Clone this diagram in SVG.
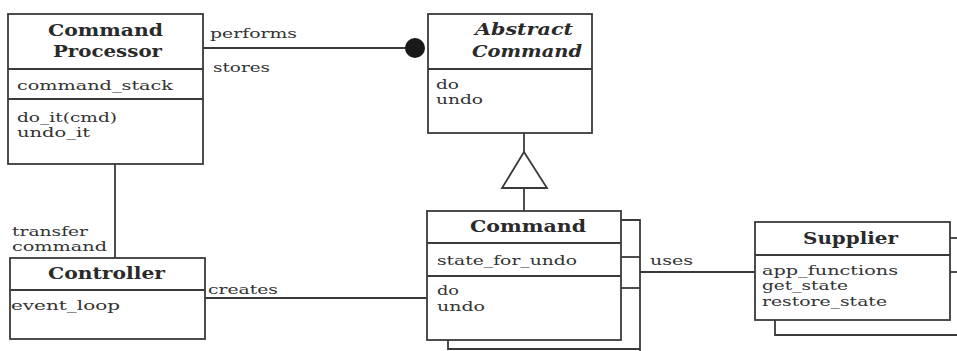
<svg xmlns="http://www.w3.org/2000/svg" width="957" height="351" viewBox="0 0 957 351">
<style>
.box{fill:#fff;stroke:#3a3a3a;stroke-width:1.8}
.ln{fill:none;stroke:#3a3a3a;stroke-width:1.8}
.t{font-family:"DejaVu Serif","Liberation Serif",serif;font-size:13px;fill:#333}
.h{font-family:"DejaVu Serif","Liberation Serif",serif;font-size:17px;font-weight:bold;fill:#2a2a2a}
.hi{font-style:italic}
</style>
<rect width="957" height="351" fill="#fff"/>
<g id="connectors">
<line class="ln" x1="203" y1="48" x2="406" y2="48"/>
<circle cx="415" cy="48" r="10" fill="#1a1a1a"/>
<line class="ln" x1="524" y1="133" x2="524" y2="152"/>
<polygon class="box" points="524,152 502,188 547,188"/>
<line class="ln" x1="524" y1="188" x2="524" y2="211"/>
<line class="ln" x1="115" y1="164" x2="115" y2="258"/>
<line class="ln" x1="205" y1="298" x2="427" y2="298"/>
<line class="ln" x1="640" y1="272" x2="755" y2="272"/>
<polyline class="ln" points="621,220 640,220 640,351"/>
<line class="ln" x1="621" y1="257" x2="640" y2="257"/>
<line class="ln" x1="621" y1="288" x2="640" y2="288"/>
<polyline class="ln" points="448,340 448,349 640,349"/>
<line class="ln" x1="950" y1="238" x2="957" y2="238"/>
<line class="ln" x1="950" y1="272" x2="957" y2="272"/>
<polyline class="ln" points="775,320 775,335 957,335"/>
<text class="t" x="210" y="38" textLength="87" lengthAdjust="spacingAndGlyphs">performs</text>
<text class="t" x="213" y="72" textLength="57" lengthAdjust="spacingAndGlyphs">stores</text>
<text class="t" x="12" y="236" textLength="76" lengthAdjust="spacingAndGlyphs">transfer</text>
<text class="t" x="12" y="251" textLength="95" lengthAdjust="spacingAndGlyphs">command</text>
<text class="t" x="208" y="294" textLength="70" lengthAdjust="spacingAndGlyphs">creates</text>
<text class="t" x="650" y="265" textLength="43" lengthAdjust="spacingAndGlyphs">uses</text>
</g>
<g id="command-processor">
<rect class="box" x="8" y="14" width="195" height="150"/>
<line class="ln" x1="8" y1="69" x2="203" y2="69"/>
<line class="ln" x1="8" y1="99" x2="203" y2="99"/>
<text class="h" x="48" y="36" textLength="115" lengthAdjust="spacingAndGlyphs">Command</text>
<text class="h" x="53" y="57" textLength="109" lengthAdjust="spacingAndGlyphs">Processor</text>
<text class="t" x="17" y="90" textLength="156" lengthAdjust="spacingAndGlyphs">command_stack</text>
<text class="t" x="17" y="122" textLength="100" lengthAdjust="spacingAndGlyphs">do_it(cmd)</text>
<text class="t" x="17" y="137" textLength="73" lengthAdjust="spacingAndGlyphs">undo_it</text>
</g>
<g id="abstract-command">
<rect class="box" x="428" y="14" width="164" height="119"/>
<line class="ln" x1="428" y1="69" x2="592" y2="69"/>
<text class="h hi" x="475" y="35" textLength="98" lengthAdjust="spacingAndGlyphs">Abstract</text>
<text class="h hi" x="472" y="57" textLength="110" lengthAdjust="spacingAndGlyphs">Command</text>
<text class="t" x="436" y="89" textLength="23" lengthAdjust="spacingAndGlyphs">do</text>
<text class="t" x="436" y="104" textLength="47" lengthAdjust="spacingAndGlyphs">undo</text>
</g>
<g id="command">
<rect class="box" x="427" y="211" width="194" height="129"/>
<line class="ln" x1="427" y1="243" x2="621" y2="243"/>
<line class="ln" x1="427" y1="276" x2="621" y2="276"/>
<text class="h" x="470" y="232" textLength="116" lengthAdjust="spacingAndGlyphs">Command</text>
<text class="t" x="437" y="265" textLength="140" lengthAdjust="spacingAndGlyphs">state_for_undo</text>
<text class="t" x="437" y="295" textLength="22" lengthAdjust="spacingAndGlyphs">do</text>
<text class="t" x="437" y="311" textLength="48" lengthAdjust="spacingAndGlyphs">undo</text>
</g>
<g id="controller">
<rect class="box" x="10" y="258" width="195" height="81"/>
<line class="ln" x1="10" y1="290" x2="205" y2="290"/>
<text class="h" x="48" y="279" textLength="117" lengthAdjust="spacingAndGlyphs">Controller</text>
<text class="t" x="11" y="310" textLength="109" lengthAdjust="spacingAndGlyphs">event_loop</text>
</g>
<g id="supplier">
<rect class="box" x="755" y="222" width="195" height="98"/>
<line class="ln" x1="755" y1="255" x2="950" y2="255"/>
<text class="h" x="803" y="244" textLength="95" lengthAdjust="spacingAndGlyphs">Supplier</text>
<text class="t" x="762" y="275" textLength="136" lengthAdjust="spacingAndGlyphs">app_functions</text>
<text class="t" x="762" y="290" textLength="86" lengthAdjust="spacingAndGlyphs">get_state</text>
<text class="t" x="762" y="306" textLength="125" lengthAdjust="spacingAndGlyphs">restore_state</text>
</g>
</svg>
